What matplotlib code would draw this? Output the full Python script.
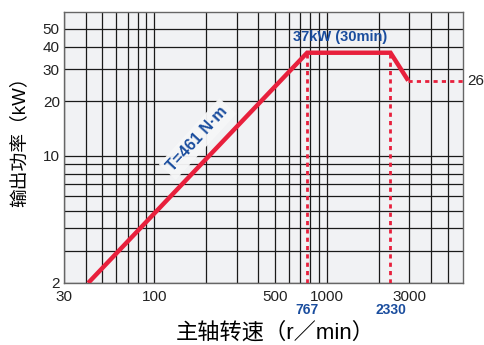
import matplotlib
matplotlib.use("Agg")
import matplotlib.pyplot as plt
from matplotlib.ticker import FixedLocator, FixedFormatter, NullFormatter

plt.rcParams['font.family'] = ['Liberation Sans', 'Noto Sans CJK SC', 'DejaVu Sans']

# ---- data ----
speed = [41.4, 767, 2330, 2950]      # r/min
power = [2, 37, 37, 26]              # kW
mark_speeds = [767, 2330]
mark_labels = ["767", "2330"]
cont_power = 26
plateau_label = "37kW (30min)"
torque_label = "T=461 N·m"
xticks = [30, 100, 500, 1000, 3000]
xtick_labels = ["30", "100", "500", "1000", "3000"]
yticks = [2, 10, 20, 30, 40, 50]
ytick_labels = ["2", "10", "20", "30", "40", "50"]
xgrid = [40, 50, 60, 70, 80, 90, 200, 300, 400, 600, 700, 800, 900, 2000, 4000, 5000]
ygrid = [3, 4, 5, 6, 7, 8, 9]

RED = "#e8203c"
BLUE = "#1a4d9e"

fig = plt.figure(figsize=(4.84, 3.45), dpi=100)
ax = fig.add_axes([64/484, 1-283/345, (463-64)/484, (283-12)/345])
ax.set_facecolor("#f1f2f4")
ax.set_xscale("log")
ax.set_yscale("log")
ax.set_xlim(30, 6125)
ax.set_ylim(2, 62)

ax.xaxis.set_major_locator(FixedLocator(xticks))
ax.xaxis.set_major_formatter(FixedFormatter(xtick_labels))
ax.xaxis.set_minor_locator(FixedLocator(xgrid))
ax.xaxis.set_minor_formatter(NullFormatter())
ax.yaxis.set_major_locator(FixedLocator(yticks))
ax.yaxis.set_major_formatter(FixedFormatter(ytick_labels))
ax.yaxis.set_minor_locator(FixedLocator(ygrid))
ax.yaxis.set_minor_formatter(NullFormatter())
ax.grid(which="both", color="#1a1a1a", lw=0.9)
ax.set_axisbelow(True)
ax.tick_params(which="both", length=0)
ax.tick_params(axis="x", pad=5, labelsize=11, colors="#222222")
ax.tick_params(axis="y", pad=3, labelsize=11, colors="#222222")
for s in ax.spines.values():
    s.set_color("#666666")
    s.set_linewidth(1.0)

# dashed markers
for sp in mark_speeds:
    ax.plot([sp, sp], [2, power[1]], color=RED, lw=2, ls=(0, (1.5, 1.5)), zorder=3)
ax.plot([speed[-1], 6125], [cont_power, cont_power], color=RED, lw=2,
        ls=(0, (1.5, 1.5)), zorder=3, clip_on=False)

# main curve
ax.plot(speed, power, color=RED, lw=3.2, solid_capstyle="butt",
        solid_joinstyle="miter", zorder=4)

# annotations
ax.text(1190, 41.5, plateau_label,
        color=BLUE, fontsize=10.5, fontweight="bold", ha="center", va="bottom", zorder=5)
ax.text(1.01, cont_power, str(cont_power), transform=ax.get_yaxis_transform(),
        fontsize=11, color="#222222", ha="left", va="center")
for sp, lab in zip(mark_speeds, mark_labels):
    ax.text(sp, -0.1, lab, transform=ax.get_xaxis_transform(), color=BLUE,
            fontsize=10, fontweight="bold", ha="center", va="center")
ax.text(178, 12.4, torque_label, color=BLUE, fontsize=11.5, fontweight="bold",
        rotation=47.5, rotation_mode="anchor", ha="center", va="center", zorder=5,
        bbox=dict(boxstyle="square,pad=0.25", fc="#f6f7f8", ec="none", alpha=0.95))

ax.set_xlabel("主轴转速（r／min）", fontsize=16)
ax.set_ylabel("输出功率（kW）", fontsize=13.5)
ax.xaxis.set_label_coords(0.529, -0.1845)
ax.xaxis.label.set_va("center")
ax.yaxis.set_label_coords(-0.112, 0.539)
ax.yaxis.label.set_va("center")

fig.savefig("out.png", dpi=100, facecolor="white")
